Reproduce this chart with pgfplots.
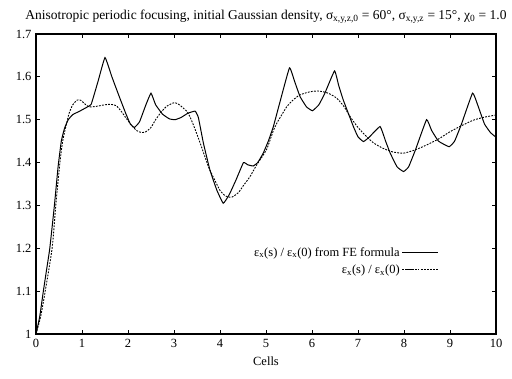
\documentclass[border=0pt]{standalone}
\usepackage{fontspec}
\setmainfont{Liberation Serif}
\usepackage{pgfplots}
\pgfplotsset{compat=1.18}
\begin{document}
\begin{tikzpicture}
\begin{axis}[
  at={(0,0)}, anchor=south west,
  scale only axis, width=460pt, height=300pt,
  xmin=0, xmax=10, ymin=1, ymax=1.7,
  xtick={0,1,...,10}, ytick={1,1.1,1.2,1.3,1.4,1.5,1.6,1.7},
  yticklabels={1,1.1,1.2,1.3,1.4,1.5,1.6,1.7},
  /pgf/number format/assume math mode=true,
  tick align=inside, major tick length=4pt,
  tick style={line width=0.8pt, black},
  axis line style={line width=1.3pt},
  ticklabel style={font=\fontsize{12.5}{14}\selectfont},
  xticklabel style={yshift=-2pt},
  yticklabel style={xshift=-1pt},
  xlabel={Cells}, xlabel style={font=\fontsize{12.5}{14}\selectfont, yshift=-2pt},
  title={Anisotropic periodic focusing, initial Gaussian density, σ\textsubscript{x,y,z,0} = 60°, σ\textsubscript{x,y,z} = 15°, χ\textsubscript{0} = 1.0},
  title style={font=\fontsize{13.5}{15}\selectfont, yshift=1pt},
  legend style={draw=none, fill=none, at={(axis cs:8.82,1.212)}, anchor=north east, font=\fontsize{12.5}{14}\selectfont, row sep=3pt},
  legend cell align=right,
  legend plot pos=right,
  legend image post style={xscale=2.1},
]
\addplot[black, line width=1pt, smooth, tension=0.2] coordinates {
(0,1.0) (0.08,1.04) (0.16,1.10) (0.23,1.15) (0.30,1.20) (0.40,1.30) (0.48,1.39) (0.55,1.45) (0.62,1.48) (0.70,1.50) (0.80,1.512) (0.95,1.52) (1.12,1.53) (1.2,1.536) (1.35,1.59) (1.5,1.645) (1.65,1.60) (1.81,1.554) (1.95,1.515) (2.05,1.49) (2.14,1.482) (2.25,1.495) (2.39,1.535) (2.5,1.562) (2.6,1.535) (2.75,1.513) (2.9,1.502) (3.02,1.50) (3.15,1.505) (3.3,1.515) (3.46,1.52) (3.53,1.505) (3.64,1.445) (3.78,1.383) (3.93,1.336) (4.07,1.305) (4.2,1.325) (4.35,1.36) (4.51,1.40) (4.6,1.395) (4.72,1.392) (4.82,1.40) (4.94,1.422) (5.05,1.45) (5.16,1.484) (5.3,1.54) (5.51,1.621) (5.62,1.59) (5.74,1.554) (5.88,1.53) (6.01,1.521) (6.15,1.535) (6.28,1.562) (6.49,1.614) (6.58,1.58) (6.68,1.546) (6.9,1.484) (7.0,1.46) (7.12,1.449) (7.25,1.46) (7.48,1.484) (7.6,1.45) (7.70,1.422) (7.85,1.39) (7.99,1.379) (8.1,1.39) (8.25,1.43) (8.49,1.50) (8.6,1.475) (8.75,1.45) (8.98,1.437) (9.1,1.45) (9.25,1.49) (9.49,1.562) (9.6,1.535) (9.75,1.49) (9.88,1.47) (10,1.459)
};
\addlegendentry{ε\textsubscript{x}(s) / ε\textsubscript{x}(0) from FE formula}
\addplot[black, line width=0.9pt, dash pattern=on 1.8pt off 1.3pt, smooth, tension=0.4] coordinates {
(0,1.0) (0.1,1.04) (0.2,1.10) (0.35,1.20) (0.43,1.30) (0.52,1.40) (0.58,1.45) (0.64,1.48) (0.72,1.515) (0.8,1.535) (0.9,1.546) (0.98,1.545) (1.08,1.535) (1.16,1.530) (1.3,1.531) (1.45,1.534) (1.6,1.536) (1.74,1.533) (1.85,1.52) (1.95,1.505) (2.10,1.484) (2.20,1.474) (2.30,1.470) (2.39,1.472) (2.5,1.482) (2.6,1.50) (2.73,1.519) (2.85,1.532) (3.02,1.540) (3.15,1.532) (3.31,1.515) (3.45,1.48) (3.57,1.445) (3.75,1.39) (3.85,1.367) (4.0,1.335) (4.12,1.322) (4.25,1.319) (4.4,1.33) (4.5,1.345) (4.65,1.367) (4.8,1.395) (5.01,1.43) (5.16,1.475) (5.23,1.491) (5.45,1.530) (5.6,1.547) (5.74,1.558) (5.95,1.565) (6.14,1.567) (6.35,1.562) (6.54,1.55) (6.7,1.53) (6.83,1.507) (7.0,1.482) (7.19,1.460) (7.35,1.445) (7.55,1.433) (7.75,1.425) (7.99,1.422) (8.25,1.43) (8.49,1.441) (8.75,1.455) (9.0,1.472) (9.25,1.486) (9.51,1.499) (9.75,1.506) (10,1.511)
};
\addlegendentry{ε\textsubscript{x}(s) / ε\textsubscript{x}(0)}
\end{axis}
\pgfresetboundingbox
\path (-36pt,-44pt) rectangle (476pt,334pt);
\end{tikzpicture}
\end{document}
